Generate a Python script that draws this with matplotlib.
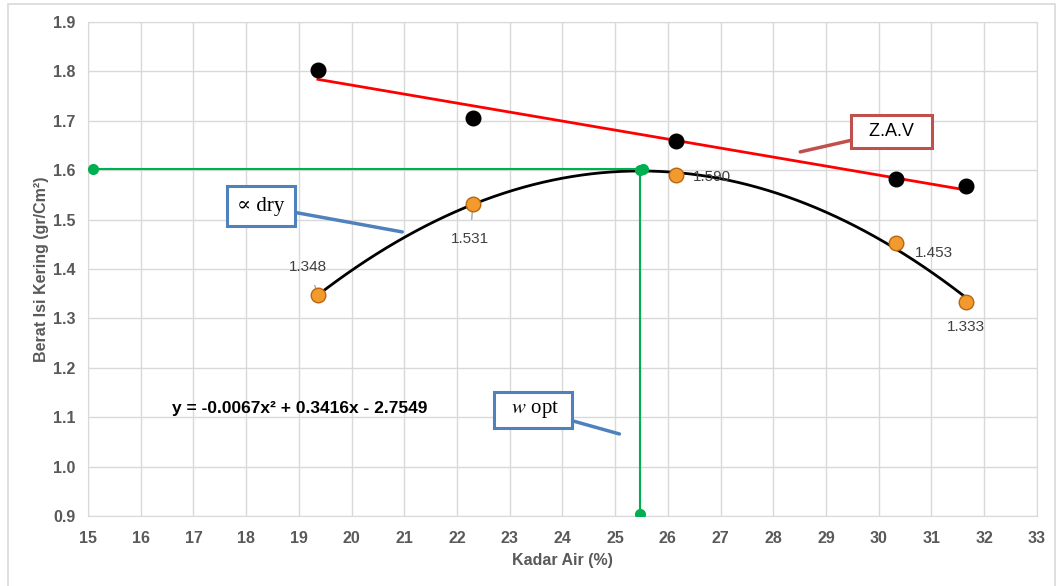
"""Proctor compaction curve: dry density vs moisture content, with ZAV line."""
import matplotlib
matplotlib.use("Agg")
import matplotlib.pyplot as plt
import numpy as np
from matplotlib.patches import Rectangle

plt.rcParams["font.family"] = ["Liberation Sans", "DejaVu Sans"]
plt.rcParams["mathtext.fontset"] = "stix"

# data
kadar_air = [19.36, 22.30, 26.16, 30.33, 31.66]
berat_kering = [1.348, 1.531, 1.590, 1.453, 1.333]
zav = [1.803, 1.706, 1.659, 1.582, 1.568]
label_text = ["1.348", "1.531", "1.590", "1.453", "1.333"]

w_opt = 25.47
gd_max = 1.603
h_start = 15.1
v_bottom = 0.905

xticks = list(range(15, 34))
yticks = [0.9, 1.0, 1.1, 1.2, 1.3, 1.4, 1.5, 1.6, 1.7, 1.8, 1.9]

GRAY = "#595959"
fig = plt.figure(figsize=(10.57, 5.86), dpi=100)
ax = fig.add_axes([0.0833, 0.1195, 0.8977, 0.843])

# faint outer frame of the chart object
fig.patches.append(Rectangle((0.008, -0.01), 0.99, 1.003, transform=fig.transFigure,
                             fill=False, edgecolor="#d9d9d9", lw=1.2))

ax.set_xlim(15, 33)
ax.set_ylim(0.9, 1.9)
ax.set_xticks(xticks)
ax.set_yticks(yticks)
ax.set_yticklabels([f"{v:.1f}" for v in yticks])
ax.grid(color="#d9d9d9", lw=1.0)
ax.set_axisbelow(True)
for s in ax.spines.values():
    s.set_color("#d9d9d9")
ax.tick_params(length=0, labelsize=11.5, labelcolor=GRAY)
ax.tick_params(axis="x", pad=11)
ax.tick_params(axis="y", pad=9)
for t in ax.get_xticklabels() + ax.get_yticklabels():
    t.set_fontweight("bold")
ax.set_xlabel("Kadar Air (%)", fontsize=11.5, fontweight="bold", color=GRAY, labelpad=5)
ax.set_ylabel("Berat Isi Kering (gr/Cm²)", fontsize=11.5, fontweight="bold", color=GRAY,
              labelpad=3)

# trendlines
x_fit = np.linspace(min(kadar_air), max(kadar_air), 200)
poly = np.polyfit(kadar_air, berat_kering, 2)
ax.plot(x_fit, np.polyval(poly, x_fit), color="black", lw=2, zorder=3)
lin = np.polyfit(kadar_air, zav, 1)
ax.plot(x_fit, np.polyval(lin, x_fit), color="#ff0000", lw=2, zorder=3)

# optimum lines
ax.plot([h_start, w_opt + 0.06], [gd_max, gd_max], color="#00b050", lw=1.5,
        marker="o", ms=7, zorder=4)
ax.plot([w_opt, w_opt], [gd_max - 0.003, v_bottom], color="#00b050", lw=1.5,
        marker="o", ms=7, zorder=4)

# points
ax.plot(kadar_air, zav, "o", color="black", ms=10.5, zorder=5)
ax.plot(kadar_air, berat_kering, "o", color="#f39a2e", mec="#b8660f", mew=1, ms=10.5,
        zorder=5)

# data labels with leader lines
offsets = [(-0.18, 0.057), (-0.05, -0.07), (0.68, -0.003), (0.72, -0.02),
           (0.0, -0.05)]
for x, y, txt, (dx, dy) in zip(kadar_air, berat_kering, label_text, offsets):
    ax.annotate(txt, (x, y), xytext=(x + dx, y + dy), ha="center", va="center",
                fontsize=11, color="#404040",
                arrowprops=dict(arrowstyle="-", color="#a6a6a6", lw=1,
                                shrinkA=7, shrinkB=2))

ax.text(19.02, 1.117, "y = -0.0067x² + 0.3416x - 2.7549", fontsize=12.5,
        fontweight="bold", ha="center", va="center", color="black")

# callouts
serif = ["Liberation Serif", "DejaVu Serif"]
ax.annotate("∝ dry", xy=(20.96, 1.475), xytext=(18.28, 1.527), ha="center",
            va="center", fontsize=15, family=serif,
            bbox=dict(boxstyle="square,pad=0.5", fc="white", ec="#4f81bd", lw=2.2),
            arrowprops=dict(arrowstyle="-", color="#4f81bd", lw=2.5, shrinkA=0,
                            shrinkB=0))
ax.annotate("  Z.A.V  ", xy=(28.51, 1.637), xytext=(30.24, 1.679), ha="center",
            va="center", fontsize=13,
            bbox=dict(boxstyle="square,pad=0.45", fc="white", ec="#c0504d", lw=2.2),
            arrowprops=dict(arrowstyle="-", color="#c0504d", lw=2.5, shrinkA=0,
                            shrinkB=0))
ax.annotate("  $w$ opt  ", xy=(25.08, 1.066), xytext=(23.44, 1.115), ha="center",
            va="center", fontsize=15, family=serif,
            bbox=dict(boxstyle="square,pad=0.35", fc="white", ec="#4f81bd", lw=2.2),
            arrowprops=dict(arrowstyle="-", color="#4f81bd", lw=2.5, shrinkA=0,
                            shrinkB=0))

fig.savefig("out.png", dpi=100)
